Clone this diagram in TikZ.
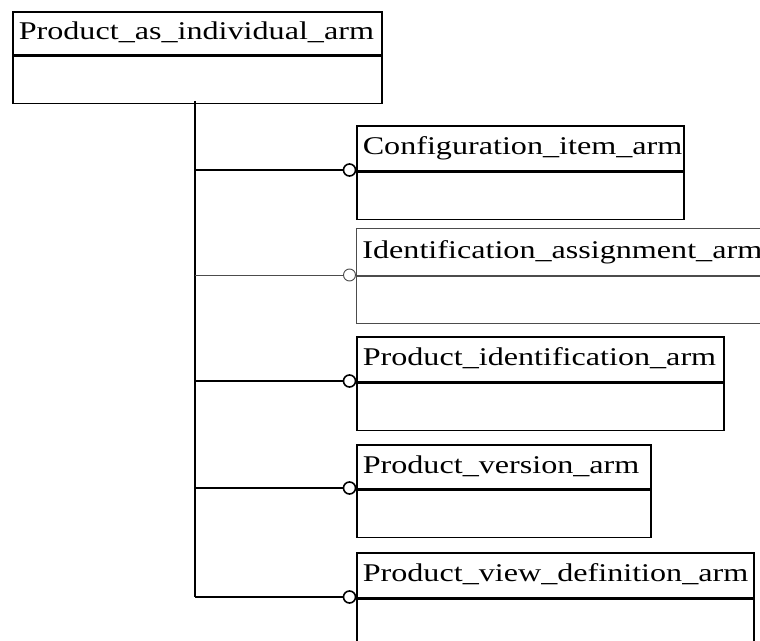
\documentclass[tikz,border=0pt]{standalone}
\usepackage{fontspec}
\setmainfont[FakeStretch=1.26]{Liberation Serif}
\begin{document}
\begin{tikzpicture}[x=1bp,y=-1bp,
  lw/.style={line width=1.6bp},
  hdr/.style={draw, lw, anchor=north west, inner xsep=6bp, inner ysep=0bp, align=left,
    font=\fontsize{25.5bp}{30bp}\selectfont, text height=18bp, text depth=5bp},
  bodybox/.style={draw, lw, anchor=north west, inner sep=0bp, minimum height=47bp},
  thin/.style={line width=0.9bp, draw=black!70},
  ring/.style={circle, draw, lw, inner sep=0bp, minimum size=12bp},
  conn/.style={lw}]
\path[use as bounding box] (0,0) rectangle (760,641);
\clip (0,0) rectangle (760,641);
% main box
\node[hdr, text width=357bp, minimum height=43bp] (p) at (12,11) {Product\_as\_individual\_arm};
\node[bodybox, minimum width=369bp] (pb) at (p.south west) {};
% box 1
\node[hdr, text width=315bp, minimum height=45bp] (b1) at (356,125) {Configuration\_item\_arm};
\node[bodybox, minimum width=327bp] (b1b) at (b1.south west) {};
% box 2
\node[hdr, thin, text width=402bp, minimum height=47bp] (b2) at (356,228) {Identification\_assignment\_arm};
\node[bodybox, thin, minimum width=414bp] (b2b) at (b2.south west) {};
% box 3
\node[hdr, text width=355bp, minimum height=45bp] (b3) at (356,336) {Product\_identification\_arm};
\node[bodybox, minimum width=367bp] (b3b) at (b3.south west) {};
% box 4
\node[hdr, text width=282bp, minimum height=44bp] (b4) at (356,444) {Product\_version\_arm};
\node[bodybox, minimum width=294bp] (b4b) at (b4.south west) {};
% box 5
\node[hdr, text width=385bp, minimum height=45bp] (b5) at (356,552) {Product\_view\_definition\_arm};
\node[bodybox, minimum width=397bp, minimum height=60bp] (b5b) at (b5.south west) {};
% junctions
\coordinate (j0) at (195,101);
\coordinate (j1) at (195,170);
\coordinate (j2) at (195,275);
\coordinate (j3) at (195,381);
\coordinate (j4) at (195,488);
\coordinate (j5) at (195,597);
% rings
\node[ring] (o1) at (349.5,170) {};
\node[ring, thin] (o2) at (349.5,275) {};
\node[ring] (o3) at (349.5,381) {};
\node[ring] (o4) at (349.5,488) {};
\node[ring] (o5) at (349.5,597) {};
% connectors
\draw[conn] (j0) -- (j5);
\draw[conn] (j1) -- (o1);
\draw[thin] (j2) -- (o2);
\draw[conn] (j3) -- (o3);
\draw[conn] (j4) -- (o4);
\draw[conn] (j5) -- (o5);
\end{tikzpicture}
\end{document}
